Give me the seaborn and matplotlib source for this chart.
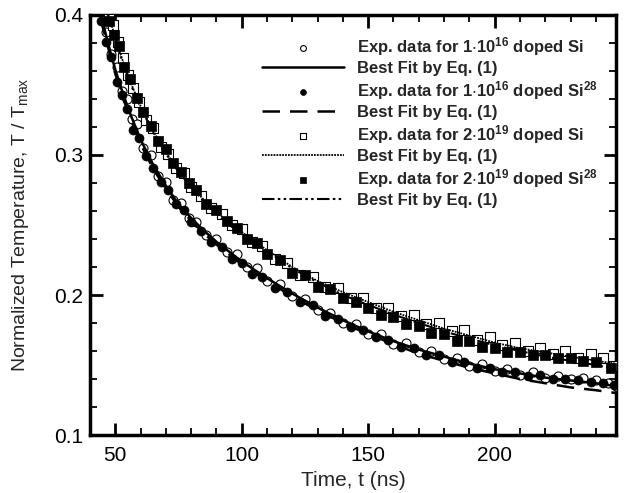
import matplotlib
matplotlib.use("Agg")
import matplotlib.pyplot as plt
import seaborn as sns
import pandas as pd

# ---- data ----
x_o1 = [46.5, 48.5, 50.5, 52.5, 54.5, 56.5, 58.5, 61, 64, 67, 70, 73, 76, 79, 82, 86, 90, 94, 98, 102,
        106, 110, 115, 120, 125, 130, 135, 140, 145, 150, 155, 160, 165, 170, 175, 180, 185, 190, 195, 200,
        205, 210, 215, 220, 225, 230, 235, 240, 245, 248]
y_o1 = [0.388, 0.372, 0.363, 0.346, 0.340, 0.326, 0.322, 0.305, 0.300, 0.285, 0.281, 0.268, 0.266, 0.255, 0.252,
        0.243, 0.240, 0.231, 0.229, 0.220, 0.219, 0.210, 0.208, 0.199, 0.197, 0.189, 0.187, 0.180, 0.179, 0.172,
        0.172, 0.165, 0.166, 0.159, 0.160, 0.154, 0.155, 0.149, 0.151, 0.146, 0.147, 0.143, 0.145, 0.141, 0.142,
        0.140, 0.141, 0.139, 0.137, 0.135]

x_f1 = [44.5, 46.5, 48.5, 50.5, 52.5, 54.5, 57, 59.5, 62, 65, 68, 71, 74, 77, 80, 84, 88, 92, 96, 100,
        104, 108, 113, 118, 123, 128, 133, 138, 143, 148, 153, 158, 163, 168, 173, 178, 183, 188, 193, 198,
        203, 208, 213, 218, 223, 228, 233, 238, 243, 247]
y_f1 = [0.396, 0.381, 0.370, 0.352, 0.343, 0.333, 0.318, 0.312, 0.299, 0.291, 0.281, 0.275, 0.265, 0.261, 0.252,
        0.246, 0.238, 0.234, 0.226, 0.223, 0.215, 0.213, 0.205, 0.202, 0.195, 0.193, 0.185, 0.183, 0.177, 0.175,
        0.170, 0.168, 0.163, 0.162, 0.157, 0.157, 0.152, 0.152, 0.148, 0.148, 0.145, 0.145, 0.142, 0.143, 0.140,
        0.140, 0.139, 0.138, 0.137, 0.136]

x_s1 = [47.5, 49, 51, 53, 55, 57, 59.5, 62, 65, 68, 71, 74, 77, 80, 84, 88, 92, 96, 100, 104,
        108, 113, 118, 123, 128, 133, 138, 143, 148, 153, 158, 163, 168, 173, 178, 183, 188, 193, 198, 203,
        208, 213, 218, 223, 228, 233, 238, 243, 247]
y_s1 = [0.399, 0.393, 0.381, 0.369, 0.357, 0.348, 0.338, 0.325, 0.319, 0.306, 0.301, 0.291, 0.287, 0.277, 0.271,
        0.262, 0.258, 0.250, 0.247, 0.238, 0.235, 0.226, 0.223, 0.214, 0.213, 0.206, 0.205, 0.198, 0.198, 0.191,
        0.191, 0.185, 0.186, 0.179, 0.180, 0.174, 0.175, 0.168, 0.170, 0.164, 0.166, 0.160, 0.162, 0.158, 0.160,
        0.155, 0.158, 0.155, 0.149]

x_f2 = [47.5, 49.5, 51.5, 53.5, 56, 58.5, 61, 64, 67, 70, 73, 76, 79, 82, 86, 90, 94, 98, 102, 106,
        110, 115, 120, 125, 130, 135, 140, 145, 150, 155, 160, 165, 170, 175, 180, 185, 190, 195, 200, 205,
        210, 215, 220, 225, 230, 235, 240, 246]
y_f2 = [0.396, 0.386, 0.378, 0.363, 0.354, 0.341, 0.331, 0.321, 0.310, 0.304, 0.294, 0.288, 0.280, 0.275, 0.265,
        0.261, 0.253, 0.248, 0.240, 0.237, 0.229, 0.225, 0.216, 0.214, 0.206, 0.204, 0.198, 0.195, 0.191, 0.186,
        0.184, 0.179, 0.178, 0.173, 0.172, 0.167, 0.167, 0.163, 0.162, 0.159, 0.159, 0.157, 0.157, 0.155, 0.155,
        0.153, 0.152, 0.148]

x_fit_low = [44, 46, 48, 50, 53, 56, 60, 65, 70, 75, 80, 85, 90, 95, 100, 110, 120, 130, 140, 150,
             160, 170, 180, 190, 200, 210, 220, 230, 240, 248]
y_fit1 = [0.402, 0.388, 0.374, 0.361, 0.344, 0.329, 0.311, 0.293, 0.278, 0.265, 0.255, 0.246, 0.238, 0.231, 0.224,
          0.212, 0.201, 0.191, 0.182, 0.174, 0.167, 0.161, 0.156, 0.151, 0.147, 0.144, 0.141, 0.139, 0.137, 0.135]
y_fit2 = [0.398, 0.385, 0.371, 0.358, 0.341, 0.326, 0.308, 0.290, 0.276, 0.263, 0.253, 0.244, 0.236, 0.229, 0.222,
          0.210, 0.199, 0.189, 0.180, 0.172, 0.165, 0.158, 0.153, 0.148, 0.144, 0.140, 0.137, 0.134, 0.132, 0.130]

x_fit_high = [47, 48, 50, 53, 56, 60, 65, 70, 75, 80, 85, 90, 95, 100, 110, 120, 130, 140, 150, 160,
              170, 180, 190, 200, 210, 220, 230, 240, 248]
y_fit3 = [0.402, 0.396, 0.384, 0.367, 0.352, 0.335, 0.317, 0.302, 0.289, 0.278, 0.268, 0.259, 0.252, 0.245, 0.232,
          0.220, 0.210, 0.202, 0.195, 0.188, 0.182, 0.176, 0.171, 0.166, 0.162, 0.159, 0.156, 0.153, 0.151]
y_fit4 = [0.400, 0.394, 0.382, 0.366, 0.351, 0.334, 0.316, 0.301, 0.288, 0.277, 0.267, 0.258, 0.250, 0.244, 0.231,
          0.219, 0.209, 0.200, 0.193, 0.186, 0.180, 0.174, 0.169, 0.164, 0.160, 0.156, 0.153, 0.150, 0.147]

labels = [r"Exp. data for 1$\cdot$10$^{16}$ doped Si",
          "Best Fit by Eq. (1)",
          r"Exp. data for 1$\cdot$10$^{16}$ doped Si$^{28}$",
          "Best Fit by Eq. (1)",
          r"Exp. data for 2$\cdot$10$^{19}$ doped Si",
          "Best Fit by Eq. (1)",
          r"Exp. data for 2$\cdot$10$^{19}$ doped Si$^{28}$",
          "Best Fit by Eq. (1)"]

sns.set_style("ticks")
plt.rcParams["font.family"] = ["Liberation Sans", "DejaVu Sans"]
plt.rcParams["mathtext.fontset"] = "custom"
plt.rcParams["mathtext.rm"] = "Liberation Sans"
plt.rcParams["mathtext.bf"] = "Liberation Sans:bold"
plt.rcParams["mathtext.default"] = "regular"

fig = plt.figure(figsize=(6.28, 4.93), dpi=100)
ax = fig.add_axes([0.1433, 0.1176, 0.8377, 0.852])

ms = 42
sns.scatterplot(x=x_o1, y=y_o1, ax=ax, marker="o", s=ms, facecolor="white", edgecolor="black",
                linewidth=0.8, label=labels[0], zorder=3)
sns.lineplot(x=x_fit_low, y=y_fit1, ax=ax, color="black", linewidth=1.8, linestyle="-", label=labels[1], zorder=4)
sns.scatterplot(x=x_f1, y=y_f1, ax=ax, marker="o", s=ms, color="black", edgecolor="black",
                linewidth=0.5, label=labels[2], zorder=3)
sns.lineplot(x=x_fit_low, y=y_fit2, ax=ax, color="black", linewidth=1.8, linestyle=(0, (7, 4)), label=labels[3], zorder=4)
sns.scatterplot(x=x_s1, y=y_s1, ax=ax, marker="s", s=ms, facecolor="white", edgecolor="black",
                linewidth=0.8, label=labels[4], zorder=3)
sns.lineplot(x=x_fit_high, y=y_fit3, ax=ax, color="black", linewidth=1.3, linestyle=(0, (1, 0.6)), label=labels[5], zorder=4)
sns.scatterplot(x=x_f2, y=y_f2, ax=ax, marker="s", s=ms, color="black", edgecolor="black",
                linewidth=0.5, label=labels[6], zorder=3)
sns.lineplot(x=x_fit_high, y=y_fit4, ax=ax, color="black", linewidth=1.5,
             linestyle=(0, (6, 1.6, 1.2, 1.6, 1.2, 1.6)), label=labels[7], zorder=4)

ax.set_xlim(40, 248)
ax.set_ylim(0.1, 0.4)
ax.set_xticks([50, 100, 150, 200])
ax.set_xticks(list(range(40, 250, 10)), minor=True)
ax.set_yticks([0.1, 0.2, 0.3, 0.4])
ax.set_yticklabels(["0.1", "0.2", "0.3", "0.4"])
ax.set_yticks([0.12, 0.14, 0.16, 0.18, 0.22, 0.24, 0.26, 0.28, 0.32, 0.34, 0.36, 0.38], minor=True)
ax.tick_params(which="both", direction="in", top=True, right=True, colors="black", labelsize=15)
ax.tick_params(which="major", length=9, width=2)
ax.tick_params(which="minor", length=5, width=1.3)
ax.tick_params(axis="x", pad=8)
ax.tick_params(axis="y", pad=5)
for sp in ax.spines.values():
    sp.set_linewidth(2.5)
    sp.set_color("black")

ax.set_xlabel("Time, t (ns)", fontsize=15, labelpad=4)
ax.set_ylabel(r"Normalized Temperature, T / T$_{max}$", fontsize=14)
ax.yaxis.set_label_coords(-0.112, 0.50)

handles, labs = ax.get_legend_handles_labels()
leg = ax.legend(handles, labs, loc="upper right", bbox_to_anchor=(0.985, 0.976), frameon=False,
                prop={"weight": "bold", "size": 12}, handlelength=4.9, handletextpad=0.8,
                labelspacing=0.18, borderaxespad=0.2, markerscale=0.65)

fig.savefig("out.png", dpi=100)
